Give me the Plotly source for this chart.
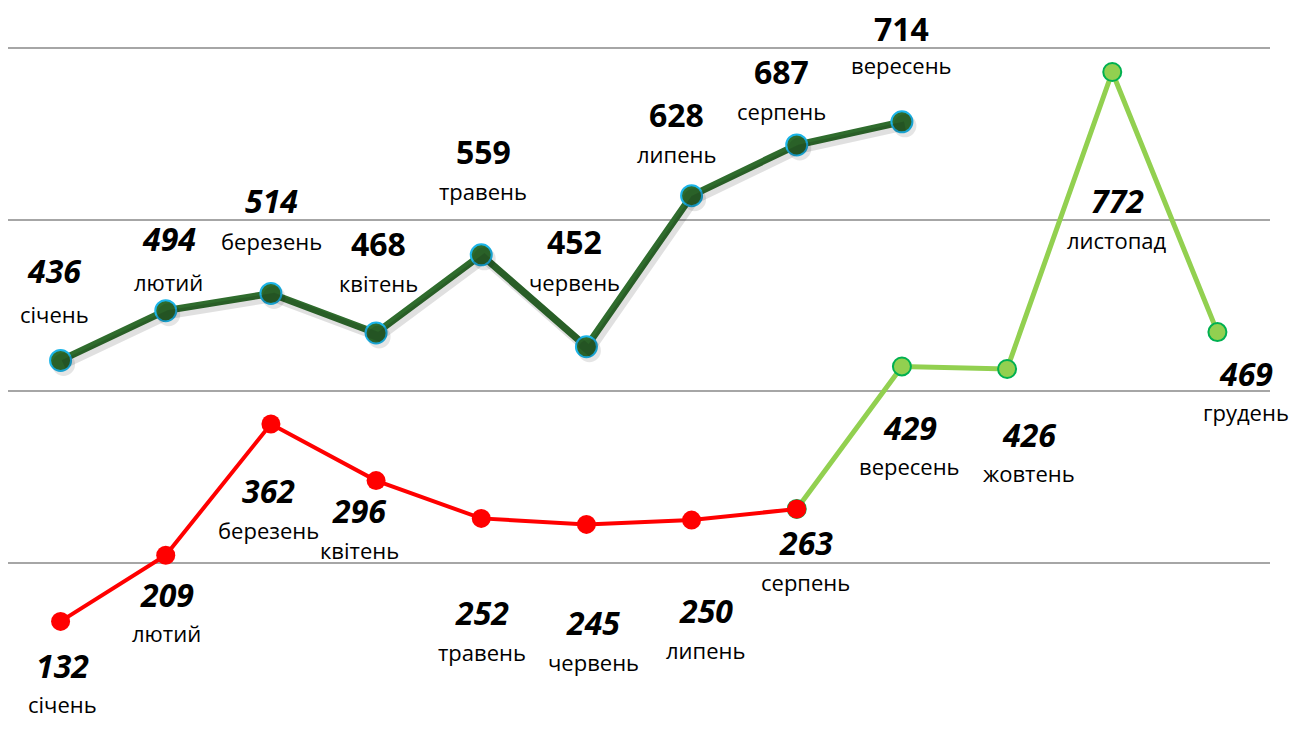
import plotly.graph_objects as go

# ---------------- data ----------------
months = ["січень", "лютий", "березень", "квітень", "травень", "червень",
          "липень", "серпень", "вересень", "жовтень", "листопад", "грудень"]
series_prev = [436, 494, 514, 468, 559, 452, 628, 687, 714, None, None, None]
series_red = [132, 209, 362, 296, 252, 245, 250, 263, None, None, None, None]
series_lgreen = [None, None, None, None, None, None, None, 263, 429, 426, 772, 469]
grid_values = [200, 400, 600, 800]

# ---------------- styling / label offsets (pixels) ----------------
# page body has an 8px margin, so the figure is sized to fit the window
W, H = 1302, 723
PL, PR = 0, 40
Y_RANGE = [4.3, 846.6]
X_RANGE = [-0.5, 11.5]
NUM_FONT = dict(family="Open Sans", size=32, color="black")
MON_FONT = dict(family="Open Sans", size=22, color="black")

# (dx, num_dy, month_dy, italic) ; dy positive = up
off_prev = [(-6, 90, 46, True), (3, 72, 29, True), (1, 93, 52, True),
            (2, 89, 50, False), (2, 103, 64, False), (-12, 105, 65, False),
            (-15, 81, 42, False), (-15, 73, 34, False), (0, 93, 57, False)]
off_red = [(2, -44, -83), (1, -39, -78), (-2, -67, -106), (-17, -30, -69),
           (1, -94, -134), (7, -98, -138), (14, -90, -130), (9, -34, -73)]
off_lg = {8: (8, -61, -100), 9: (22, -65, -104), 10: (5, -128, -168), 11: (29, -41, -80)}

fig = go.Figure()

# soft shadow for dark-green line via slightly shifted overlay axes
sx, sy = 3, 4  # pixels
px_per_cat = (W - PL - PR) / (X_RANGE[1] - X_RANGE[0])
px_per_unit = H / (Y_RANGE[1] - Y_RANGE[0])
idx = list(range(len(months)))
fig.add_trace(go.Scatter(
    x=idx, y=series_prev, mode="lines+markers",
    line=dict(color="rgba(0,0,0,0.12)", width=9),
    marker=dict(size=23, color="rgba(0,0,0,0.10)"),
    xaxis="x2", yaxis="y2", hoverinfo="skip", showlegend=False,
))

fig.add_trace(go.Scatter(
    x=months, y=series_prev, mode="lines+markers",
    line=dict(color="#2F6C2D", width=7),
    marker=dict(size=21, color="#2F6C2D", line=dict(color="#1CB5E8", width=2)),
    showlegend=False,
))
fig.add_trace(go.Scatter(
    x=months, y=series_lgreen, mode="lines+markers",
    line=dict(color="#92D050", width=5),
    marker=dict(size=18, color="#92D050", line=dict(color="#00B050", width=2)),
    showlegend=False,
))
fig.add_trace(go.Scatter(
    x=months, y=series_red, mode="lines+markers",
    line=dict(color="#FF0000", width=4),
    marker=dict(size=19, color="#FF0000"),
    showlegend=False,
))

ann = []
def add_label(i, v, dx, ndy, mdy, italic=True):
    t = f"<b>{v}</b>"
    if italic:
        t = f"<b><i>{v}</i></b>"
    ann.append(dict(x=months[i], y=v, text=t, showarrow=False, xshift=dx, yshift=ndy,
                    font=NUM_FONT, xanchor="center", yanchor="middle", borderpad=0))
    ann.append(dict(x=months[i], y=v, text=months[i], showarrow=False, xshift=dx, yshift=mdy,
                    font=MON_FONT, xanchor="center", yanchor="middle", borderpad=0))

for i, o in enumerate(off_prev):
    add_label(i, series_prev[i], o[0], o[1], o[2], o[3])
for i, o in enumerate(off_red):
    add_label(i, series_red[i], o[0], o[1], o[2], True)
for i, o in off_lg.items():
    add_label(i, series_lgreen[i], o[0], o[1], o[2], True)

fig.update_layout(
    width=W, height=H,
    margin=dict(l=PL, r=PR, t=0, b=0),
    paper_bgcolor="white", plot_bgcolor="white",
    annotations=ann,
    xaxis=dict(type="category", categoryorder="array", categoryarray=months,
               range=X_RANGE, showgrid=False, zeroline=False,
               showticklabels=False, showline=False, ticks=""),
    yaxis=dict(range=Y_RANGE, tickvals=grid_values, showticklabels=False,
               showgrid=True, gridcolor="#A6A6A6", gridwidth=2,
               zeroline=False, showline=False, ticks=""),
    xaxis2=dict(overlaying="x", range=[X_RANGE[0] - sx / px_per_cat, X_RANGE[1] - sx / px_per_cat],
                visible=False),
    yaxis2=dict(overlaying="y", range=[Y_RANGE[0] + sy / px_per_unit, Y_RANGE[1] + sy / px_per_unit],
                visible=False),
)

fig.write_html("out.html")
